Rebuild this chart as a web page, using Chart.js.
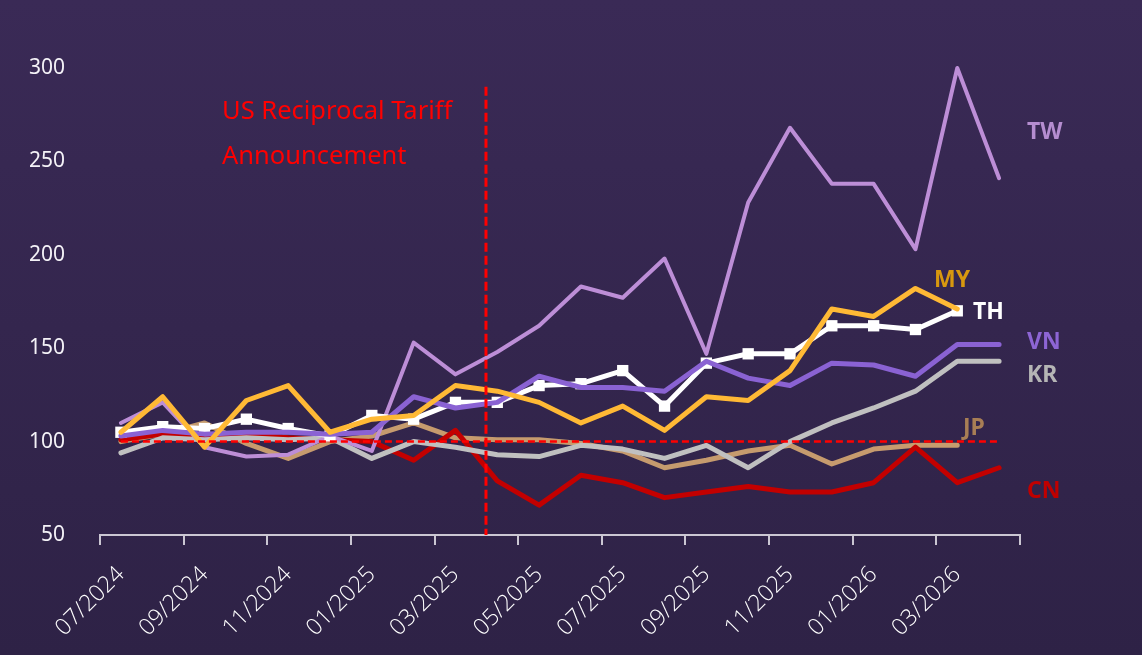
<!DOCTYPE html>
<html>
<head>
<meta charset="utf-8">
<script src="https://cdn.jsdelivr.net/npm/chart.js@4.4.1/dist/chart.umd.min.js"></script>
<style>
  html, body { margin: 0; padding: 0; }
  body {
    width: 1142px; height: 655px; overflow: hidden;
    background: linear-gradient(180deg, #3a2a56 0%, #2e2246 100%);
  }
  #c { display: block; }
</style>
</head>
<body>
<canvas id="c" width="1142" height="655"></canvas>
<script>
// monthly categories, a label shown every second month
const months = ['07/2024', '08/2024', '09/2024', '10/2024', '11/2024', '12/2024',
                '01/2025', '02/2025', '03/2025', '04/2025', '05/2025', '06/2025',
                '07/2025', '08/2025', '09/2025', '10/2025', '11/2025', '12/2025',
                '01/2026', '02/2026', '03/2026', '04/2026'];

const tw = [110, 121, 97, 92, 93, 103, 95, 153, 136, 148, 162, 183, 177, 198, 147, 228, 268, 238, 238, 203, 300, 241];
const th = [105, 108, 107, 112, 107, 103, 114, 112, 121, 121, 130, 131, 138, 119, 142, 147, 147, 162, 162, 160, 170, null];
const my = [105, 124, 97, 122, 130, 105, 112, 114, 130, 127, 121, 110, 119, 106, 124, 122, 138, 171, 167, 182, 171, null];
const vn = [103, 106, 104, 105, 105, 104, 105, 124, 118, 121, 135, 129, 129, 127, 143, 134, 130, 142, 141, 135, 152, 152];
const kr = [94, 102, 101, 102, 101, 102, 91, 100, 97, 93, 92, 98, 96, 91, 98, 86, 100, 110, 118, 127, 143, 143];
const jp = [100, 104, 110, 99, 91, 100, 103, 110, 102, 101, 101, 99, 95, 86, 90, 95, 98, 88, 96, 98, 98, null];
const cn = [101, 104, 103, 104, 102, 101, 100, 90, 106, 79, 66, 82, 78, 70, 73, 76, 73, 73, 78, 97, 78, 86];

const yTicks = [50, 100, 150, 200, 250, 300];
const baseline = 100;
const announceAt = 8.73;   // early April 2025, on the category scale
const announceTop = 290;
const announceText = ['US Reciprocal Tariff', 'Announcement'];

// series name tags at the right end
const tags = [
  { text: 'TW', color: '#b58dd0', x: 1027, y: 132 },
  { text: 'MY', color: '#d8980f', x: 934, y: 280 },
  { text: 'TH', color: '#ffffff', x: 973, y: 312 },
  { text: 'VN', color: '#8d65d4', x: 1027, y: 342 },
  { text: 'KR', color: '#b5b5b5', x: 1027, y: 375 },
  { text: 'JP', color: '#a87e55', x: 963, y: 428 },
  { text: 'CN', color: '#c00000', x: 1027, y: 491 }
];

function serie(label, data, color, width) {
  return {
    label: label,
    data: data,
    borderColor: color,
    backgroundColor: color,
    borderWidth: width || 5,
    pointRadius: 0,
    tension: 0,
    borderCapStyle: 'round',
    borderJoinStyle: 'round',
    clip: false
  };
}

const thSerie = serie('TH', th, '#ffffff');
thSerie.pointStyle = 'rect';
thSerie.pointRadius = 8;
thSerie.pointBorderWidth = 0;
thSerie.pointBackgroundColor = '#ffffff';

const refLines = {
  id: 'refLines',
  afterDatasetsDraw(chart) {
    const { ctx, scales: { x, y } } = chart;
    ctx.save();
    ctx.strokeStyle = '#ff0000';

    ctx.lineWidth = 2.5;
    ctx.setLineDash([7, 4]);
    ctx.beginPath();
    ctx.moveTo(x.getPixelForValue(0), y.getPixelForValue(baseline));
    ctx.lineTo(x.getPixelForValue(months.length - 1), y.getPixelForValue(baseline));
    ctx.stroke();

    const ax = x.getPixelForValue(announceAt);
    ctx.lineWidth = 3;
    ctx.setLineDash([9, 4]);
    ctx.beginPath();
    ctx.moveTo(ax, y.getPixelForValue(announceTop));
    ctx.lineTo(ax, y.bottom);
    ctx.stroke();
    ctx.restore();
  },
  afterDraw(chart) {
    const ctx = chart.ctx;
    ctx.save();
    ctx.fillStyle = '#ff0000';
    ctx.font = '25.5px "Noto Sans"';
    ctx.textBaseline = 'alphabetic';
    ctx.fillText(announceText[0], 222, 119);
    ctx.fillText(announceText[1], 222, 164);

    ctx.font = 'bold 23px "Noto Sans"';
    ctx.textBaseline = 'middle';
    tags.forEach(t => {
      ctx.fillStyle = t.color;
      ctx.fillText(t.text, t.x, t.y);
    });
    ctx.restore();
  }
};

const tickMark = c => (c.index === undefined || c.index % 2 === 0) ? '#cbc7d3' : 'rgba(0,0,0,0)';

new Chart(document.getElementById('c'), {
  type: 'line',
  data: {
    labels: months,
    datasets: [
      serie('MY', my, '#ffb935'),
      serie('VN', vn, '#8a62d3'),
      thSerie,
      serie('TW', tw, '#bd8ed7', 4),
      serie('KR', kr, '#c0c0c0'),
      serie('CN', cn, '#c30000'),
      serie('JP', jp, '#c69b6e')
    ]
  },
  options: {
    responsive: false,
    animation: false,
    layout: { padding: { left: 0, right: 122, top: 68, bottom: 0 } },
    plugins: { legend: { display: false }, tooltip: { enabled: false } },
    scales: {
      x: {
        type: 'category',
        offset: true,
        grid: {
          offset: true,
          drawOnChartArea: false,
          drawTicks: true,
          tickLength: 10,
          lineWidth: 2,
          color: tickMark,
          tickColor: tickMark
        },
        border: { display: true, color: '#cbc7d3', width: 2 },
        ticks: {
          autoSkip: false,
          minRotation: 45,
          maxRotation: 45,
          padding: 16,
          color: '#ffffff',
          font: { family: 'Open Sans', size: 23, weight: '300' },
          callback: function (v, i) { return i % 2 === 0 ? this.getLabelForValue(v) : ''; }
        },
        afterFit: s => { s.height = 120; }
      },
      y: {
        min: 50,
        max: 300,
        afterBuildTicks: s => { s.ticks = yTicks.map(v => ({ value: v })); },
        grid: { display: false, drawTicks: false },
        border: { display: false },
        ticks: {
          padding: 35,
          color: '#f4f2f7',
          font: { family: 'Noto Sans', size: 21 }
        },
        afterFit: s => { s.width = 100; }
      }
    }
  },
  plugins: [refLines]
});
</script>
</body>
</html>
